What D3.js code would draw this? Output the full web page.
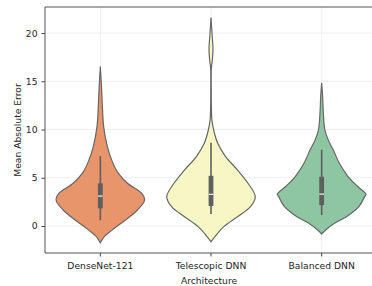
<!DOCTYPE html>
<html>
<head>
<meta charset="utf-8">
<script src="https://cdn.jsdelivr.net/npm/d3@7"></script>
<style>
  body { margin: 0; background: #fff; }
  text { font-family: "DejaVu Sans", sans-serif; fill: #262626; }
</style>
</head>
<body>
<div id="chart"></div>
<script>
// categories and fill colours
var categories = ["DenseNet-121", "Telescopic DNN", "Balanced DNN"];
var colors = ["#E8956B", "#F7F7C6", "#8EC6A4"];

// density profile: [value, relative width]
var denseNetDensity = [
  [-1.73, 0], [-1.1, 0.09], [-0.4, 0.27], [0.6, 0.56], [1.66, 0.84], [2.7, 1.0],
  [3.4, 0.93], [4.4, 0.62], [5.5, 0.40], [6.8, 0.26], [8.2, 0.16], [10.3, 0.075],
  [12.0, 0.05], [14.5, 0.025], [16.5, 0]
];
var telescopicDensity = [
  [-1.63, 0], [-1.1, 0.09], [-0.07, 0.29], [0.96, 0.6], [2.0, 0.89], [3.04, 1.0],
  [4.4, 0.84], [5.8, 0.6], [7.2, 0.33], [8.6, 0.15], [9.95, 0.06], [11.0, 0.02],
  [12.5, 0.008], [14.0, 0.006], [16.3, 0.008], [17.2, 0.03], [18.3, 0.045],
  [19.8, 0.025], [21.6, 0]
];
var balancedDensity = [
  [-0.83, 0], [-0.41, 0.09], [0.28, 0.29], [0.96, 0.56], [2.0, 0.84], [3.04, 0.97],
  [3.3, 1.0], [4.07, 0.82], [5.1, 0.6], [6.5, 0.4], [7.9, 0.26], [8.9, 0.15],
  [9.95, 0.073], [11.7, 0.038], [13.4, 0.022], [14.85, 0]
];
var densities = [denseNetDensity, telescopicDensity, balancedDensity];

// box stats: [whisker low, q1, median, q3, whisker high]
var boxStats = [
  [0.6, 1.83, 3.1, 4.42, 7.25],
  [1.24, 2.07, 3.28, 5.2, 8.63],
  [1.14, 2.16, 3.3, 5.1, 7.9]
];

var yTicks = [0, 5, 10, 15, 20];

var width = 372, height = 286;
var margin = {top: 7, left: 45, bottom: 33};
var plotRight = 377;

var svg = d3.select("#chart").append("svg")
  .attr("width", width)
  .attr("height", height);

var x = d3.scaleBand()
  .domain(categories)
  .range([margin.left, plotRight])
  .padding(0);

var y = d3.scaleLinear()
  .domain([-2.8, 22.7])
  .range([height - margin.bottom, margin.top]);

var halfWidth = x.bandwidth() * 0.4;

// grid
svg.append("g").selectAll("line").data(yTicks)
  .enter().append("line")
    .attr("x1", margin.left).attr("x2", plotRight)
    .attr("y1", function(d) { return y(d); })
    .attr("y2", function(d) { return y(d); })
    .attr("stroke", "#ebebeb").attr("stroke-width", 0.8);

svg.append("g").selectAll("line").data(categories)
  .enter().append("line")
    .attr("x1", function(d) { return x(d) + x.bandwidth() / 2; })
    .attr("x2", function(d) { return x(d) + x.bandwidth() / 2; })
    .attr("y1", margin.top).attr("y2", height - margin.bottom)
    .attr("stroke", "#ebebeb").attr("stroke-width", 0.8);

// violins
var violin = svg.append("g").selectAll("g").data(categories)
  .enter().append("g")
    .attr("transform", function(d) { return "translate(" + (x(d) + x.bandwidth() / 2) + ",0)"; });

violin.append("path")
  .attr("d", function(d, i) {
    return d3.area()
      .curve(d3.curveCatmullRom)
      .y(function(p) { return y(p[0]); })
      .x0(function(p) { return -p[1] * halfWidth; })
      .x1(function(p) { return p[1] * halfWidth; })(densities[i]);
  })
  .attr("fill", function(d, i) { return colors[i]; })
  .attr("stroke", "#666")
  .attr("stroke-width", 1.2);

// inner box
violin.append("line")
  .attr("y1", function(d, i) { return y(boxStats[i][0]); })
  .attr("y2", function(d, i) { return y(boxStats[i][4]); })
  .attr("stroke", "#5f5f5f").attr("stroke-width", 1.6);

violin.append("rect")
  .attr("x", -2.4).attr("width", 4.8)
  .attr("y", function(d, i) { return y(boxStats[i][3]); })
  .attr("height", function(d, i) { return y(boxStats[i][1]) - y(boxStats[i][3]); })
  .attr("fill", "#5f5f5f");

violin.append("line")
  .attr("x1", -2.4).attr("x2", 2.4)
  .attr("y1", function(d, i) { return y(boxStats[i][2]); })
  .attr("y2", function(d, i) { return y(boxStats[i][2]); })
  .attr("stroke", "#e8e8e8").attr("stroke-width", 1.3);

// axes
var yAxis = svg.append("g")
  .attr("transform", "translate(" + margin.left + ",0)")
  .call(d3.axisLeft(y).tickValues(yTicks).tickSize(3.5).tickPadding(4));

var xAxis = svg.append("g")
  .attr("transform", "translate(0," + (height - margin.bottom) + ")")
  .call(d3.axisBottom(x).tickSize(3.5).tickPadding(5.5));

[yAxis, xAxis].forEach(function(a) {
  a.select(".domain").remove();
  a.selectAll(".tick line").attr("stroke", "#444");
  a.selectAll(".tick text").attr("font-size", "9.2px").attr("fill", "#262626")
    .attr("font-family", "DejaVu Sans");
});

// spines
svg.append("path")
  .attr("d", "M" + plotRight + "," + margin.top + "H" + margin.left +
    "V" + (height - margin.bottom) + "H" + plotRight)
  .attr("fill", "none")
  .attr("stroke", "#555")
  .attr("stroke-width", 1);

svg.append("text")
  .attr("x", (margin.left + plotRight) / 2 - 2)
  .attr("y", 283.5)
  .attr("text-anchor", "middle")
  .attr("font-size", "9.2px")
  .text("Architecture");

svg.append("text")
  .attr("transform", "translate(21," + (margin.top + height - margin.bottom) / 2 + ") rotate(-90)")
  .attr("text-anchor", "middle")
  .attr("font-size", "9.2px")
  .text("Mean Absolute Error");
</script>
</body>
</html>
